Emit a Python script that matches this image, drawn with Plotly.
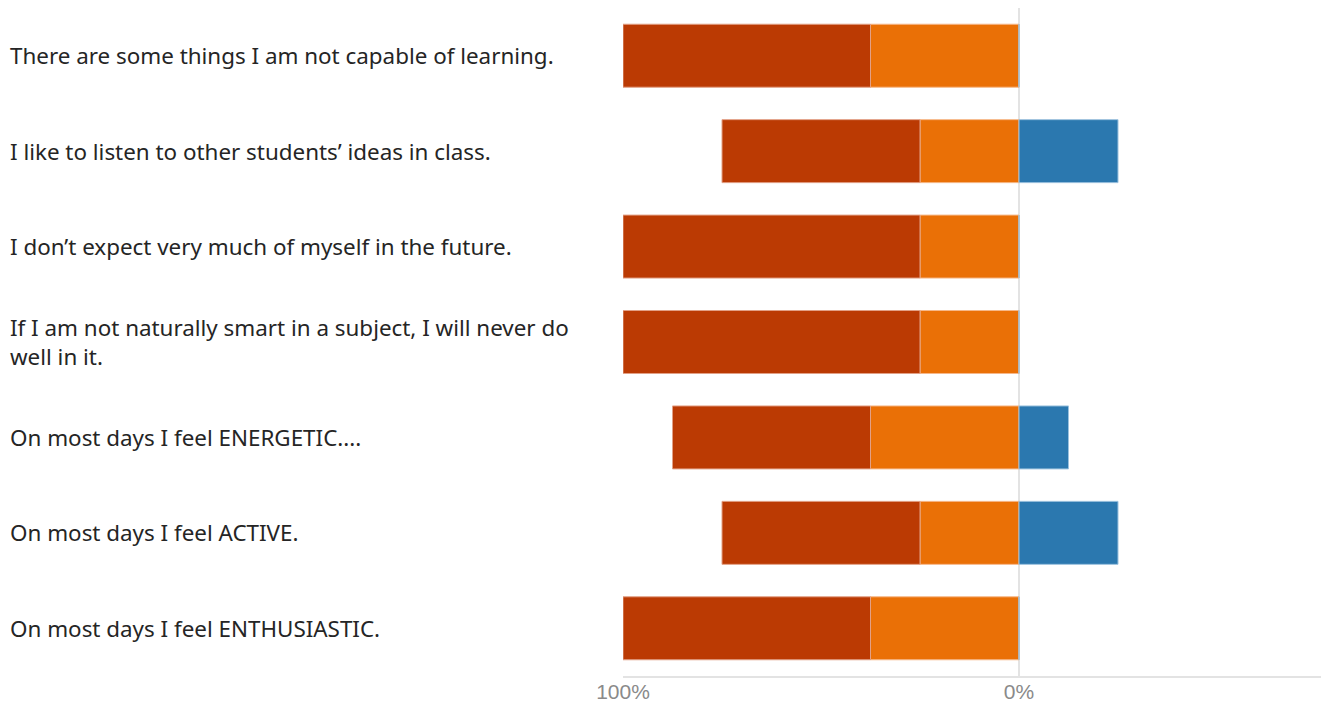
import plotly.graph_objects as go

questions = [
    "There are some things I am not capable of learning.",
    "I like to listen to other students\u2019 ideas in class.",
    "I don\u2019t expect very much of myself in the future.",
    "If I am not naturally smart in a subject, I will never do<br>well in it.",
    "On most days I feel ENERGETIC....",
    "On most days I feel ACTIVE.",
    "On most days I feel ENTHUSIASTIC.",
]
strongly_disagree = [62.5, 50, 75, 75, 50, 50, 62.5]
disagree = [37.5, 25, 25, 25, 37.5, 25, 37.5]
agree = [0, 25, 0, 0, 12.5, 25, 0]
tick_vals = [-100, 0]
tick_text = ["100%", "0%"]

cats = list(range(len(questions)))

W, H = 1313, 695
L, R, T, B = 615, 0, 0, 27
plot_w = W - L - R
x_end = plot_w / 3.96 - 100

fig = go.Figure()
fig.add_trace(go.Bar(
    y=cats, x=[-v for v in disagree], orientation="h", name="Disagree",
    marker=dict(color="#EA7006", line=dict(color="#F6B889", width=1)),
))
fig.add_trace(go.Bar(
    y=cats, x=[-v for v in strongly_disagree], orientation="h", name="Strongly disagree",
    marker=dict(color="#BB3A03", line=dict(color="#E2A086", width=1)),
))
fig.add_trace(go.Bar(
    y=cats, x=agree, orientation="h", name="Agree",
    marker=dict(color="#2B78AF", line=dict(color="#9CC2DE", width=1)),
))

for i, q in enumerate(questions):
    fig.add_annotation(
        x=-L / plot_w, xref="paper", y=i, yref="y", text=q,
        showarrow=False, xanchor="left", align="left", yanchor="middle",
        font=dict(family="Noto Sans", size=22.4, color="#252525"),
    )

fig.update_layout(
    barmode="relative", bargap=0.34, showlegend=False,
    width=W, height=H,
    margin=dict(l=L, r=R, t=T, b=B, pad=0, autoexpand=False),
    plot_bgcolor="white", paper_bgcolor="white",
    xaxis=dict(range=[-100, x_end], tickvals=tick_vals, ticktext=tick_text,
               showgrid=True, gridcolor="#e3e3e3", gridwidth=1.5, zeroline=False,
               showline=True, linecolor="#e3e3e3", linewidth=1.5,
               ticks="", ticklen=0,
               automargin=False, ticklabelstandoff=-4,
               tickfont=dict(family="Liberation Sans", size=21, color="#8a8a8a")),
    yaxis=dict(range=[len(questions) - 0.5, -0.5], showticklabels=False,
               showgrid=False, zeroline=False, automargin=False),
)

fig.write_html("out.html")
